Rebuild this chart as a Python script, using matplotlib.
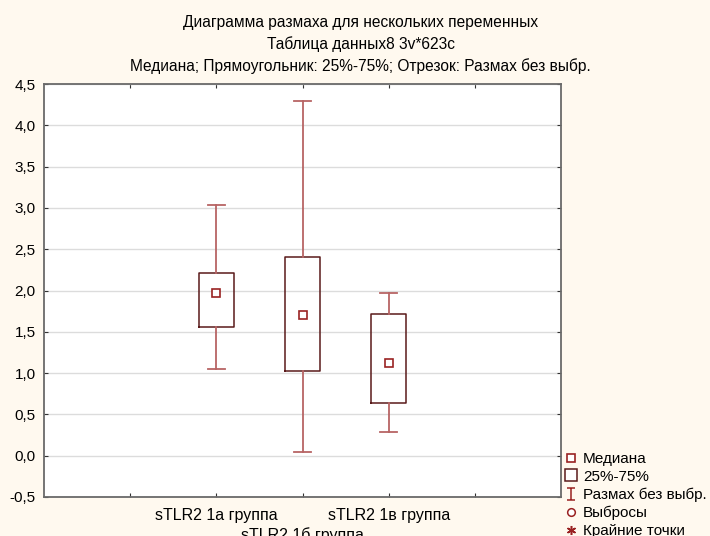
import matplotlib
matplotlib.use("Agg")
import matplotlib.pyplot as plt
from matplotlib.path import Path
from matplotlib.lines import Line2D
from matplotlib.ticker import FuncFormatter

plt.rcParams['font.family'] = ['Liberation Sans', 'DejaVu Sans']

groups = ["sTLR2 1а группа", "sTLR2 1б группа", "sTLR2 1в группа"]
medians = [1.97, 1.70, 1.12]
q1 = [1.56, 1.02, 0.64]
q3 = [2.21, 2.40, 1.72]
whis_lo = [1.05, 0.05, 0.29]
whis_hi = [3.04, 4.30, 1.97]

titles = ["Диаграмма размаха для нескольких переменных",
          "Таблица данных8 3v*623c",
          "Медиана; Прямоугольник: 25%-75%; Отрезок: Размах без выбр."]
legend_labels = ["Медиана", "25%-75%", "Размах без выбр.", "Выбросы", "Крайние точки"]

bg = "#FFF9EF"
box_col = "#5A1A1A"
whis_col = "#B76464"
med_col = "#9A2222"

fig = plt.figure(figsize=(7.1, 5.36), dpi=100, facecolor=bg)
ax = fig.add_axes([44 / 710, 1 - 497 / 536, (561 - 44) / 710, (497 - 84) / 536])

positions = [1, 2, 3]
stats = []
for i in range(len(groups)):
    stats.append({"med": medians[i], "q1": q1[i], "q3": q3[i],
                  "whislo": whis_lo[i], "whishi": whis_hi[i], "fliers": []})

ax.bxp(stats, positions=positions, widths=0.41, showfliers=False,
       boxprops=dict(color=box_col, linewidth=1.1),
       whiskerprops=dict(color=whis_col, linewidth=1.3),
       capprops=dict(color=whis_col, linewidth=1.3),
       medianprops=dict(linewidth=0), capwidths=0.2, zorder=3)
ax.plot(positions, medians, 's', ms=6, mfc="white", mec=med_col, mew=1.2,
        linestyle="none", zorder=4)

ax.set_xlim(-1, 5)
ax.set_ylim(-0.5, 4.5)
ax.set_yticks([-0.5 + 0.5 * k for k in range(11)])
ax.yaxis.set_major_formatter(FuncFormatter(lambda v, p: f"{v:.1f}".replace(".", ",")))
ax.set_xticks([0, 1, 2, 3, 4])
ax.set_xticklabels(["", groups[0], "\n" + groups[1], groups[2], ""])
ax.grid(axis="y", color="#DCDCDC", linewidth=1)
ax.set_axisbelow(True)
ax.tick_params(direction="in", top=True, right=True, length=3, labelsize=11,
               color="#333333", pad=6)
ax.tick_params(axis="x", pad=8, labelsize=11.5)
for lbl in ax.get_xticklabels():
    lbl.set_linespacing(1.35)
for s in ax.spines.values():
    s.set_color("#6A6A6A")
    s.set_linewidth(1.3)

for k, t in enumerate(titles):
    fig.text(0.508, 1 - (22 + k * 22) / 536, t, ha="center", va="center", fontsize=11.2)

ibeam = Path([(-0.5, 0.7), (0.5, 0.7), (0, 0.7), (0, -0.7), (-0.5, -0.7), (0.5, -0.7)],
             [Path.MOVETO, Path.LINETO, Path.MOVETO, Path.LINETO, Path.MOVETO, Path.LINETO])
handles = [
    Line2D([], [], marker="s", ms=5.5, mfc="white", mec=med_col, mew=1.2, ls="none"),
    Line2D([], [], marker="s", ms=9, mfc="white", mec=box_col, mew=1.1, ls="none"),
    Line2D([], [], marker=ibeam, ms=9, mec=med_col, mew=1.1, ls="none"),
    Line2D([], [], marker="o", ms=5.5, mfc="white", mec=med_col, mew=1.1, ls="none"),
    Line2D([], [], marker=(6, 2, 0), ms=6.5, mec=med_col, mew=1.1, ls="none"),
]
fig.legend(handles, legend_labels, loc="upper left", bbox_to_anchor=(563 / 710, 1 - 452 / 536),
           frameon=False, fontsize=11, handlelength=1.0, handletextpad=0.3,
           labelspacing=0.25, borderaxespad=0, borderpad=0)

fig.savefig("out.png", dpi=100, facecolor=bg)
